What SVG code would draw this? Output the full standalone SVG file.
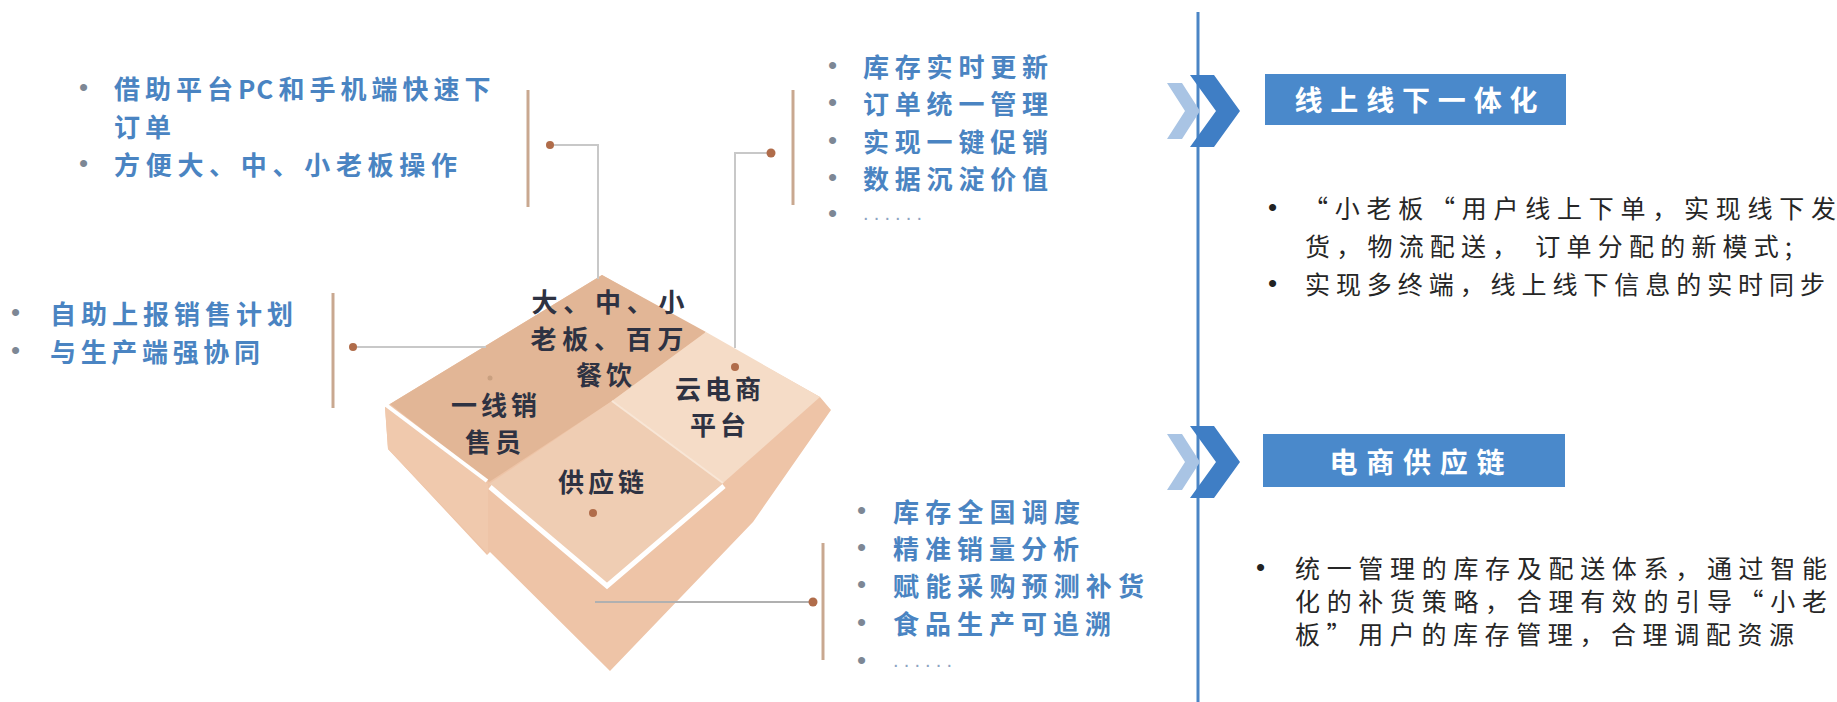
<svg xmlns="http://www.w3.org/2000/svg" width="1837" height="702" viewBox="0 0 1837 702">
<defs>
<style>
.blue{font-family:"Noto Sans CJK SC","Noto Sans",sans-serif;font-weight:700;font-size:26px;fill:#4a84c2;dominant-baseline:central}
.dark{font-family:"Noto Sans CJK SC","Noto Sans",sans-serif;font-weight:400;font-size:25px;fill:#262626;dominant-baseline:central}
.tile{font-family:"Noto Sans CJK SC","Noto Sans",sans-serif;font-weight:700;font-size:26px;fill:#2e3242;dominant-baseline:central;text-anchor:middle}
.hdr{font-family:"Noto Sans CJK SC","Noto Sans",sans-serif;font-weight:700;font-size:28px;fill:#ffffff;dominant-baseline:central;text-anchor:middle}
.bul{font-family:"Liberation Sans",sans-serif;font-size:26px;fill:#7d8795;dominant-baseline:central}
.bulk{font-family:"Liberation Sans",sans-serif;font-size:26px;fill:#222;dominant-baseline:central}
.dots{font-family:"Liberation Sans",sans-serif;font-size:20px;fill:#8da3c2;dominant-baseline:central}
.bar{stroke:#c9a890;stroke-width:3;fill:none}
.link{stroke:#c8c8c8;stroke-width:2;fill:none}
.pt{fill:#b06c4a}
.chevL{fill:#a9c4e4}
.chevD{fill:#3f7ec5}
.box{fill:#4a89cb}
</style>
</defs>
<rect width="1837" height="702" fill="#ffffff"/>

<g id="platform">
  <polygon points="602,275 820,397 831,410 753,522 610,671 490,552 487,555 388,449 385,407 390,404" fill="#eec4a7"/>
  <polygon points="385,407 488,484 488,554 388,449" fill="#f0c9ad"/>
  <polygon points="602,275 390,404 489,482 612,401 706,332" fill="#e2b696"/>
  <polygon points="612,401 723,483 607,585 489,484" fill="#efcdb3"/>
  <polygon points="612,401 706,332 820,397 723,483" fill="#f5dcc7"/>
  <polyline points="612,401 723,483" stroke="#f8e6d6" stroke-width="2" fill="none"/>
  <polyline points="386,405 487,481" stroke="#ffffff" stroke-width="4" fill="none"/>
  <polyline points="490,487 607,586 724,486" stroke="#ffffff" stroke-width="5" fill="none"/>
</g>

<g id="node-boss">
  <text class="tile" x="608" y="300" textLength="153" lengthAdjust="spacing">大、中、小</text>
  <text class="tile" x="607" y="337" textLength="153" lengthAdjust="spacing">老板、百万</text>
  <text class="tile" x="606" y="373" letter-spacing="4">餐饮</text>
</g>
<g id="node-sales">
  <text class="tile" x="496" y="403" letter-spacing="4">一线销</text>
  <text class="tile" x="495" y="440" letter-spacing="4">售员</text>
  <circle cx="490" cy="378" r="2.5" fill="#c9a080"/>
</g>
<g id="node-supply">
  <text class="tile" x="603" y="480" letter-spacing="4">供应链</text>
  <circle class="pt" cx="593" cy="513" r="4"/>
</g>
<g id="node-cloud">
  <text class="tile" x="720" y="387" letter-spacing="4">云电商</text>
  <text class="tile" x="720" y="423" letter-spacing="4">平台</text>
  <circle class="pt" cx="735" cy="367" r="4"/>
</g>

<g id="connectors">
  <polyline class="link" points="550,145 598,145 598,279"/>
  <polyline class="link" points="771,153 735,153 735,348"/>
  <polyline class="link" points="353,347 486,347"/>
  <polyline points="595,602 813,602" stroke="#b0b0b0" stroke-width="2" fill="none"/>
  <circle class="pt" cx="550" cy="145" r="4"/>
  <circle class="pt" cx="771" cy="153" r="4.5"/>
  <circle class="pt" cx="353" cy="347" r="4"/>
  <circle class="pt" cx="813" cy="602" r="4.5"/>
</g>

<g id="note-order">
  <line class="bar" x1="528" y1="90" x2="528" y2="207"/>
  <text class="bul" x="79" y="87">•</text>
  <text class="blue" x="114" y="87" letter-spacing="5">借助平台<tspan letter-spacing="1">PC</tspan><tspan dx="4">和手机端快速下</tspan></text>
  <text class="blue" x="114" y="125" letter-spacing="5">订单</text>
  <text class="bul" x="79" y="163">•</text>
  <text class="blue" x="114" y="163" textLength="343" lengthAdjust="spacing">方便大、中、小老板操作</text>
</g>

<g id="note-platform">
  <line class="bar" x1="793" y1="90" x2="793" y2="205"/>
  <text class="bul" x="828" y="65">•</text>
  <text class="blue" x="863" y="65" textLength="185" lengthAdjust="spacing">库存实时更新</text>
  <text class="bul" x="828" y="102">•</text>
  <text class="blue" x="863" y="102" textLength="185" lengthAdjust="spacing">订单统一管理</text>
  <text class="bul" x="828" y="140">•</text>
  <text class="blue" x="863" y="140" textLength="185" lengthAdjust="spacing">实现一键促销</text>
  <text class="bul" x="828" y="177">•</text>
  <text class="blue" x="863" y="177" textLength="185" lengthAdjust="spacing">数据沉淀价值</text>
  <text class="bul" x="828" y="213">•</text>
  <text class="dots" x="863" y="213" textLength="59" lengthAdjust="spacing">......</text>
</g>

<g id="note-sales">
  <line class="bar" x1="333" y1="293" x2="333" y2="408"/>
  <text class="bul" x="11" y="312">•</text>
  <text class="blue" x="50" y="312" textLength="243" lengthAdjust="spacing">自助上报销售计划</text>
  <text class="bul" x="11" y="350">•</text>
  <text class="blue" x="50" y="350" textLength="210" lengthAdjust="spacing">与生产端强协同</text>
</g>

<g id="note-supply">
  <line class="bar" x1="823" y1="543" x2="823" y2="660"/>
  <text class="bul" x="857" y="510">•</text>
  <text class="blue" x="893" y="510" textLength="187" lengthAdjust="spacing">库存全国调度</text>
  <text class="bul" x="857" y="547">•</text>
  <text class="blue" x="893" y="547" textLength="186" lengthAdjust="spacing">精准销量分析</text>
  <text class="bul" x="857" y="584">•</text>
  <text class="blue" x="893" y="584" textLength="251" lengthAdjust="spacing">赋能采购预测补货</text>
  <text class="bul" x="857" y="622">•</text>
  <text class="blue" x="893" y="622" textLength="218" lengthAdjust="spacing">食品生产可追溯</text>
  <text class="bul" x="857" y="660">•</text>
  <text class="dots" x="893" y="660" textLength="59" lengthAdjust="spacing">......</text>
</g>

<g id="divider">
  <line x1="1198" y1="12" x2="1198" y2="702" stroke="#4b85c5" stroke-width="3"/>
</g>

<g id="online-offline">
  <polygon class="chevL" points="1167,83 1182,83 1200,111 1182,139 1167,139 1185,111"/>
  <polygon class="chevD" points="1190,75 1214,75 1240,111 1214,147 1190,147 1216,111"/>
  <rect class="box" x="1265" y="74" width="301" height="51"/>
  <text class="hdr" x="1416" y="99" textLength="243" lengthAdjust="spacing">线上线下一体化</text>
  <text class="bulk" x="1268" y="207">•</text>
  <text class="dark" x="1303" y="207" textLength="533" lengthAdjust="spacing">“小老板“用户线上下单，实现线下发</text>
  <text class="dark" x="1305" y="245" textLength="487" lengthAdjust="spacing">货，物流配送， 订单分配的新模式;</text>
  <text class="bulk" x="1268" y="283">•</text>
  <text class="dark" x="1305" y="283" textLength="520" lengthAdjust="spacing">实现多终端，线上线下信息的实时同步</text>
</g>

<g id="ecommerce-supply">
  <polygon class="chevL" points="1167,434 1182,434 1200,462 1182,490 1167,490 1185,462"/>
  <polygon class="chevD" points="1190,426 1214,426 1240,462 1214,498 1190,498 1216,462"/>
  <rect class="box" x="1263" y="434" width="302" height="53"/>
  <text class="hdr" x="1417" y="461" textLength="175" lengthAdjust="spacing">电商供应链</text>
  <text class="bulk" x="1256" y="567">•</text>
  <text class="dark" x="1295" y="567" textLength="532" lengthAdjust="spacing">统一管理的库存及配送体系，通过智能</text>
  <text class="dark" x="1295" y="600" textLength="532" lengthAdjust="spacing">化的补货策略，合理有效的引导“小老</text>
  <text class="dark" x="1295" y="633" textLength="499" lengthAdjust="spacing">板”用户的库存管理，合理调配资源</text>
</g>
</svg>
